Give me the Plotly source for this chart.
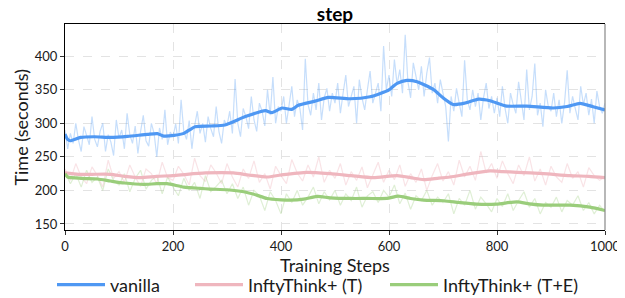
import plotly.graph_objects as go

# ---------------- data ----------------
raw_steps_v = list(range(0, 1001, 5))
vanilla_raw = [
    290, 262, 285, 270, 300, 275, 258, 295, 282, 268, 310, 276, 265, 288, 300, 258, 283, 272, 252, 305,
    278, 290, 262, 315, 283, 270, 296, 255, 288, 312, 274, 266, 300, 285, 250, 293, 276, 320, 268, 287,
    280, 299, 270, 335, 288, 276, 304, 262, 296, 318, 285, 300, 272, 310, 292, 280, 325, 288, 270, 305,
    296, 318, 285, 366, 300, 280, 322, 310, 292, 340, 305, 288, 330, 318, 296, 350, 312, 369, 300, 325,
    318, 340, 300, 330, 355, 310, 335, 322, 290, 396, 328, 312, 345, 320, 360, 305, 338, 352, 318, 345,
    330, 360, 315, 345, 372, 325, 340, 355, 300, 365, 338, 320, 350, 378, 330, 345, 360, 318, 415, 350,
    372, 340, 395, 358, 380, 345, 432, 362, 338, 390, 370, 350, 385, 340, 375, 398, 345, 360, 330, 365,
    345, 325, 273, 340, 318, 352, 330, 310, 394, 335, 320, 350, 325, 345, 305, 338, 360, 322, 340, 315,
    338, 310, 355, 322, 300, 345, 328, 315, 362, 330, 305, 380, 320, 340, 389, 312, 330, 295, 350, 325,
    318, 345, 310, 335, 300, 330, 379, 315, 340, 322, 305, 355, 328, 345, 312, 336, 300, 348, 325, 315,
    330,
]

raw_steps_t = list(range(0, 1001, 10))
t_raw = [
    232, 215, 240, 220, 210, 235, 222, 205, 245, 218,
    228, 212, 238, 220, 206, 232, 225, 210, 242, 219,
    215, 236, 224, 208, 248, 222, 213, 238, 226, 210,
    240, 220, 205, 232, 218, 244, 212, 225, 202, 236,
    222, 210, 246, 226, 214, 238, 220, 250, 212, 230,
    218, 240, 208, 228, 215, 235, 204, 224, 242, 212,
    230, 216, 238, 206, 225, 212, 232, 200, 222, 240,
    214, 228, 208, 245, 220, 236, 215, 258, 226, 240,
    218, 244, 225, 210, 238, 222, 250, 214, 232, 208,
    236, 220, 212, 240, 218, 228, 205, 234, 222, 215,
    220,
]
te_raw = [
    228, 210, 225, 205, 230, 212, 220, 200, 232, 215,
    208, 225, 198, 218, 230, 202, 215, 222, 195, 220,
    205, 192, 218, 200, 212, 188, 222, 198, 206, 215,
    195, 210, 188, 205, 178, 200, 192, 170, 198, 185,
    165, 195, 182, 200, 178, 190, 205, 180, 198, 186,
    200, 178, 195, 185, 205, 175, 192, 198, 182, 200,
    190, 208, 180, 196, 172, 192, 185, 200, 178, 190,
    182, 195, 165, 188, 178, 200, 172, 190, 180, 168,
    188, 176, 195, 170, 185, 198, 175, 188, 165, 182,
    175, 190, 168, 185, 178, 192, 170, 182, 165, 178,
    168,
]

vanilla_sm_steps = [0, 5, 10, 29, 54, 85, 116, 153, 171, 183, 202, 220, 241, 270, 296, 334, 371, 383,
                    402, 420, 432, 463, 488, 528, 565, 584, 600, 615, 633, 652, 682, 700, 719, 740,
                    766, 787, 818, 855, 904, 930, 954, 978, 1000]
vanilla_sm = [284, 276, 274, 279, 280, 279, 280.5, 283.6, 284.6, 281, 282, 285, 295, 296, 297.5, 310,
              318.8, 316, 322.8, 320.8, 326.8, 333, 338.7, 336.6, 339.6, 344.6, 350, 359.5, 364, 362,
              350.6, 338, 328, 330, 336, 333.7, 325.7, 325.7, 322.8, 325, 329.8, 324.7, 319.8]

t_sm_steps = [0, 25, 50, 84, 110, 140, 170, 200, 226, 260, 312, 340, 374, 400, 448, 491, 530, 571,
              615, 640, 664, 690, 713, 750, 787, 810, 837, 886, 935, 970, 1000]
t_sm = [226, 224, 224, 224, 221, 219, 221, 222, 224, 226, 226, 223, 220, 223, 227, 225, 222, 219,
        222, 219, 216, 218, 220, 225, 229, 228, 227, 225, 222, 221, 219]

te_sm_steps = [0, 5, 30, 60, 84, 110, 146, 170, 189, 220, 250, 269, 300, 331, 355, 374, 400, 417,
               442, 467, 491, 528, 560, 596, 617, 640, 664, 701, 730, 762, 799, 837, 860, 886, 935,
               972, 1000]
te_sm = [225, 220, 218, 217, 214, 211, 209, 210, 210, 205, 203, 202, 201, 198, 193, 188, 186, 185.5,
         187, 191, 189, 188, 188, 188, 191.5, 188, 185.5, 184.6, 182, 179.6, 179.6, 183, 180, 178,
         178, 175, 170]

names = ["vanilla", "InftyThink+ (T)", "InftyThink+ (T+E)"]
x_ticks = [0, 200, 400, 600, 800, 1000]
y_ticks = [150, 200, 250, 300, 350, 400]
x_title = "Training Steps"
y_title = "Time (seconds)"

# ---------------- figure ----------------
# the page body has an 8px default margin, so the figure is 8px smaller than the window
W, H = 617, 290
ML, MR, MT, MB = 56.5, 20, 16, 68
PW, PH = W - ML - MR, H - MT - MB
FONT = "Lato"
TXT = "#1a1a1a"
c_v, c_t, c_te = "#4f98f3", "#efb6be", "#9acd7b"
raw_col = {
    c_v: "rgba(79,152,243,0.32)",
    c_t: "rgba(239,182,190,0.38)",
    c_te: "rgba(154,205,123,0.32)",
}

fig = go.Figure()
for xs, ys, c in [(raw_steps_v, vanilla_raw, c_v), (raw_steps_t, t_raw, c_t), (raw_steps_t, te_raw, c_te)]:
    fig.add_trace(go.Scatter(x=xs, y=ys, mode="lines", line=dict(color=raw_col[c], width=1.2),
                             showlegend=False, hoverinfo="skip"))
for (xs, ys, c, n), lg in zip([(vanilla_sm_steps, vanilla_sm, c_v, names[0]),
                              (t_sm_steps, t_sm, c_t, names[1]),
                              (te_sm_steps, te_sm, c_te, names[2])],
                             ["legend", "legend2", "legend3"]):
    fig.add_trace(go.Scatter(x=xs, y=ys, mode="lines", name=n, legend=lg,
                             line=dict(color=c, width=3.2, shape="spline", smoothing=0.6)))

leg_y = 1 - 277 / H
leg_common = dict(orientation="h", xref="container", yref="container", yanchor="middle",
                  xanchor="left", font=dict(size=18, family=FONT, color=TXT), itemwidth=48,
                  bgcolor="rgba(0,0,0,0)", borderwidth=0)
fig.update_layout(
    width=W, height=H,
    margin=dict(l=ML, r=MR, t=MT, b=MB, pad=0, autoexpand=False),
    paper_bgcolor="white", plot_bgcolor="white",
    font=dict(family=FONT, color=TXT),
    title=dict(text="<b>step</b>", x=0.5, xref="paper", xanchor="center", y=1 - 6 / H,
               yanchor="middle", yref="container", pad=dict(t=0, b=0),
               font=dict(size=19, family=FONT, color="black")),
    legend=dict(x=44 / W, y=leg_y, **leg_common),
    legend2=dict(x=182 / W, y=leg_y, **leg_common),
    legend3=dict(x=377 / W, y=leg_y, **leg_common),
    showlegend=True,
    annotations=[
        dict(text=x_title, xref="paper", yref="paper", x=0.5, y=-(257 - (MT + PH)) / PH,
             xanchor="center", yanchor="middle", showarrow=False,
             font=dict(size=18, family=FONT, color=TXT)),
        dict(text=y_title, xref="paper", yref="paper", x=(12 - ML) / PW, y=0.5,
             xanchor="center", yanchor="middle", textangle=-90, showarrow=False,
             font=dict(size=18, family=FONT, color=TXT)),
    ],
)
fig.update_xaxes(range=[0, 1000], tickvals=x_ticks, ticks="outside", ticklen=4, tickcolor="#333",
                 showline=True, linecolor="black", linewidth=1.2, mirror=True, automargin=False,
                 showgrid=True, gridcolor="#e3e3e3", griddash="dash", gridwidth=1,
                 zeroline=False, tickfont=dict(size=13, color=TXT))
fig.update_yaxes(range=[141, 448], tickvals=y_ticks, ticks="outside", ticklen=4, tickcolor="#333",
                 showline=True, linecolor="black", linewidth=1.2, mirror=False, automargin=False,
                 showgrid=True, gridcolor="#e3e3e3", griddash="dash", gridwidth=1,
                 zeroline=False, tickfont=dict(size=13, color=TXT))
fig.add_shape(type="line", xref="paper", yref="paper", x0=1, x1=1, y0=0, y1=1,
              line=dict(color="#888888", width=1.2))

fig.write_html("out.html")
